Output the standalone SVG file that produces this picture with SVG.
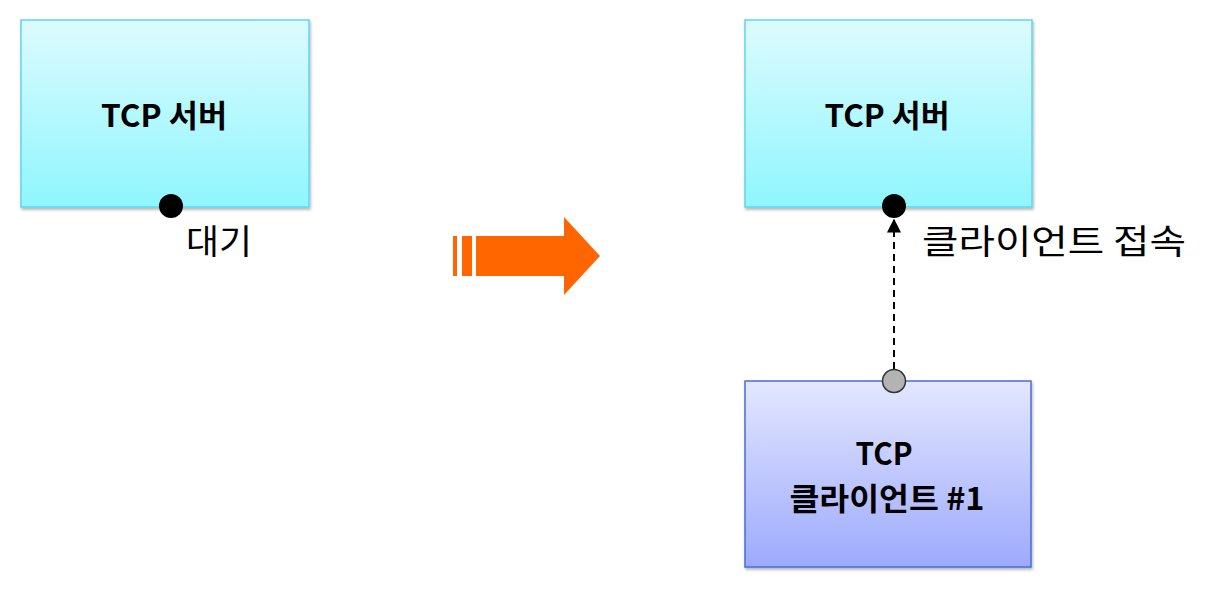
<svg xmlns="http://www.w3.org/2000/svg" width="1216" height="604" viewBox="0 0 1216 604">
  <defs>
    <linearGradient id="gServer" x1="0" y1="0" x2="0" y2="1">
      <stop offset="0" stop-color="#dcfbfe"/>
      <stop offset="1" stop-color="#8ff6fd"/>
    </linearGradient>
    <linearGradient id="gClient" x1="0" y1="0" x2="0" y2="1">
      <stop offset="0" stop-color="#e3e7fe"/>
      <stop offset="1" stop-color="#9daafc"/>
    </linearGradient>
    <filter id="shadow" x="-5%" y="-5%" width="115%" height="115%">
      <feDropShadow dx="1" dy="2" stdDeviation="1.5" flood-color="#000" flood-opacity="0.3"/>
    </filter>
    <marker id="arrow" viewBox="0 0 10 10" refX="9" refY="5" markerWidth="7" markerHeight="7" orient="auto">
      <path d="M0,0 L10,5 L0,10 z" fill="#000"/>
    </marker>
  </defs>
  <style>
    .server { fill: url(#gServer); stroke: #62d3f2; stroke-width: 1.5; }
    .client { fill: url(#gClient); stroke: #4a6ed6; stroke-width: 1.5; }
    .title { font-family: "Noto Sans CJK KR", "Noto Sans", sans-serif; font-weight: bold; font-size: 31px; fill: #000; text-anchor: middle; }
    .label { font-family: "Noto Sans CJK KR", "Noto Sans", sans-serif; font-size: 34px; fill: #000; }
    .port { fill: #000; }
    .cport { fill: #b3b3b3; stroke: #333; stroke-width: 1.5; }
  </style>

  <g id="server-left">
    <rect class="server" x="21" y="20" width="288" height="187" filter="url(#shadow)"/>
    <text class="title" x="164" y="127" textLength="126" lengthAdjust="spacingAndGlyphs">TCP 서버</text>
    <circle class="port" cx="171" cy="206" r="12"/>
    <text class="label" x="186" y="254" textLength="66" lengthAdjust="spacingAndGlyphs">대기</text>
  </g>

  <g id="transition-arrow">
    <rect x="453" y="236" width="4" height="40" fill="#ff6600"/>
    <rect x="462" y="236" width="10" height="40" fill="#ff6600"/>
    <polygon points="476,236 564,236 564,217 600,256 564,295 564,276 476,276" fill="#ff6600"/>
  </g>

  <g id="server-right">
    <rect class="server" x="745" y="20" width="287" height="187" filter="url(#shadow)"/>
    <text class="title" x="887" y="127" textLength="125" lengthAdjust="spacingAndGlyphs">TCP 서버</text>
    <circle class="port" cx="894" cy="206" r="12"/>
    <text class="label" x="922" y="254" textLength="264" lengthAdjust="spacingAndGlyphs">클라이언트 접속</text>
  </g>

  <g id="client">
    <rect class="client" x="745" y="381" width="286" height="186" filter="url(#shadow)"/>
    <text class="title" x="884" y="465" textLength="57" lengthAdjust="spacingAndGlyphs">TCP</text>
    <text class="title" x="887" y="510" textLength="195" lengthAdjust="spacingAndGlyphs">클라이언트 #1</text>
  </g>

  <g id="connectors">
    <line x1="894" y1="369" x2="894" y2="220" stroke="#000" stroke-width="2" stroke-dasharray="7,5" marker-end="url(#arrow)"/>
    <circle class="cport" cx="894" cy="381" r="11.5"/>
  </g>
</svg>
